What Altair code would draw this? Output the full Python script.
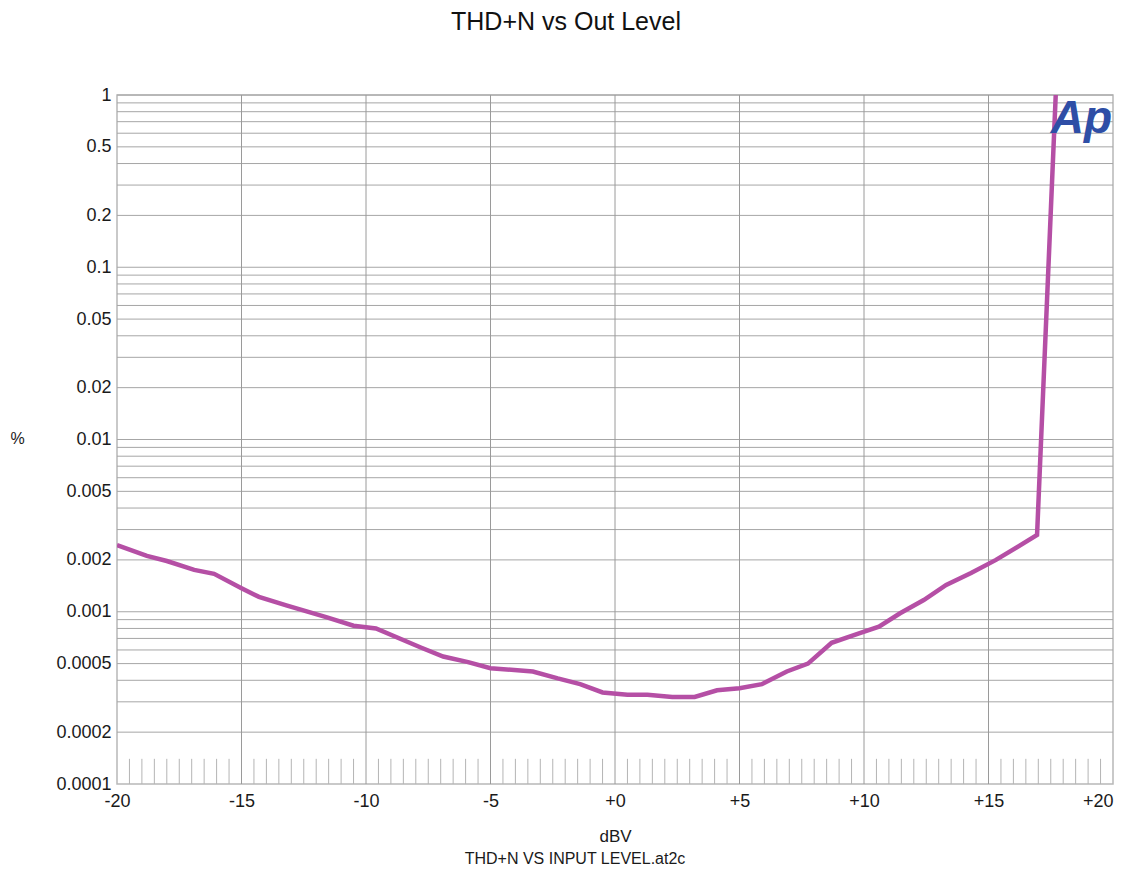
import altair as alt
import pandas as pd

# ---- data ----
level_dbv = [-20.0, -18.8, -18.0, -16.9, -16.1, -15.0, -14.3, -13.2, -11.6, -10.5,
             -9.6, -7.8, -6.9, -5.9, -5.0, -3.3, -2.3, -1.4, -0.5, 0.5,
             1.3, 2.3, 3.2, 4.1, 5.0, 5.9, 6.9, 7.75, 8.7, 9.8,
             10.6, 11.45, 12.4, 13.3, 14.3, 15.3, 16.95, 17.7]
thd_pct = [0.00244, 0.00211, 0.00197, 0.00175, 0.00166, 0.00137, 0.00122, 0.00109, 0.00093, 0.00083,
           0.00080, 0.00062, 0.00055, 0.00051, 0.00047, 0.00045, 0.00041, 0.00038, 0.00034, 0.00033,
           0.00033, 0.00032, 0.00032, 0.00035, 0.00036, 0.00038, 0.00045, 0.00050, 0.00066, 0.00075,
           0.00082, 0.00098, 0.00117, 0.00143, 0.00168, 0.00200, 0.00279, 1.0]

x_tick_values = [-20, -15, -10, -5, 0, 5, 10, 15, 20]
y_tick_values = [1, 0.5, 0.2, 0.1, 0.05, 0.02, 0.01, 0.005, 0.002, 0.001, 0.0005, 0.0002, 0.0001]

h_grid = [0.0002, 0.0003, 0.0004, 0.0005, 0.0006, 0.0007, 0.0008, 0.0009,
          0.001, 0.002, 0.003, 0.004, 0.005, 0.006, 0.007, 0.008, 0.009,
          0.01, 0.02, 0.03, 0.04, 0.05, 0.06, 0.07, 0.08, 0.09,
          0.1, 0.2, 0.3, 0.4, 0.5, 0.6, 0.7, 0.8, 0.9, 1.0]
v_grid = [-15, -10, -5, 0, 5, 10, 15]
minor_ticks = [-19.5, -19, -18.5, -18, -17.5, -17, -16.5, -16, -15.5,
               -14.5, -14, -13.5, -13, -12.5, -12, -11.5, -11, -10.5,
               -9.5, -9, -8.5, -8, -7.5, -7, -6.5, -6, -5.5,
               -4.5, -4, -3.5, -3, -2.5, -2, -1.5, -1, -0.5,
               0.5, 1, 1.5, 2, 2.5, 3, 3.5, 4, 4.5,
               5.5, 6, 6.5, 7, 7.5, 8, 8.5, 9, 9.5,
               10.5, 11, 11.5, 12, 12.5, 13, 13.5, 14, 14.5,
               15.5, 16, 16.5, 17, 17.5, 18, 18.5, 19, 19.5]
minor_tick_bottom = 0.0001
minor_tick_top = 0.00014
logo_text = ["Ap"]
logo_x = [17.5]
logo_y = [0.6]
title_text = ["THD+N vs Out Level"]
caption_text = ["THD+N VS INPUT LEVEL.at2c"]

FONT = "Liberation Sans"

df = pd.DataFrame({"dBV": level_dbv, "pct": thd_pct})
hgrid_df = pd.DataFrame({"pct": h_grid})
vgrid_df = pd.DataFrame({"dBV": v_grid})
ticks_df = pd.DataFrame({"dBV": minor_ticks,
                         "pct": [minor_tick_bottom] * len(minor_ticks),
                         "pct2": [minor_tick_top] * len(minor_ticks)})
logo_df = pd.DataFrame({"t": logo_text, "dBV": logo_x, "pct": logo_y})
title_df = pd.DataFrame({"t": title_text})
cap_df = pd.DataFrame({"t": caption_text})

x_scale = alt.Scale(domain=[-20, 20], nice=False, zero=False)
y_scale = alt.Scale(type="log", domain=[0.0001, 1], nice=False)

x_axis = alt.Axis(
    values=x_tick_values,
    labelExpr="datum.value > 0 ? '+' + datum.value : (datum.value == 0 ? '+0' : '' + datum.value)",
    labelAlign={"condition": {"test": "datum.value == 20", "value": "right"}, "value": "center"},
    labelFont=FONT, labelFontSize=18, labelColor="#1a1a1a", labelPadding=8,
    ticks=False, tickSize=0, domain=False, grid=False,
    title="dBV", titleFont=FONT, titleFontSize=17, titleFontWeight="normal",
    titleColor="#1a1a1a", titleX=498, titleY=57, titleBaseline="alphabetic",
    titleAlign="center", labelOverlap=False,
)
y_axis = alt.Axis(
    values=y_tick_values,
    labelExpr="'' + datum.value",
    labelFont=FONT, labelFontSize=18, labelColor="#1a1a1a", labelPadding=6,
    ticks=False, tickSize=0, domain=False, grid=False,
    title="%", titleFont=FONT, titleFontSize=16, titleFontWeight="normal",
    titleColor="#1a1a1a", titleAngle=0, titleX=-100, titleY=348,
    titleAlign="center", titleBaseline="alphabetic", labelOverlap=False,
)

X = alt.X("dBV:Q", scale=x_scale, axis=x_axis)
Y = alt.Y("pct:Q", scale=y_scale, axis=y_axis)

hgrid = alt.Chart(hgrid_df).mark_rule(color="#a6a6a6", strokeWidth=1).encode(y=Y)
vgrid = alt.Chart(vgrid_df).mark_rule(color="#9a9a9a", strokeWidth=1).encode(x=X)
ticks = alt.Chart(ticks_df).mark_rule(color="#b4b4b4", strokeWidth=1).encode(
    x=X, y=Y, y2="pct2:Q"
)
line = alt.Chart(df).mark_line(color="#b54fa5", strokeWidth=4.5, clip=True).encode(x=X, y=Y)
logo = alt.Chart(logo_df).mark_text(
    font=FONT, fontSize=46, fontWeight="bold", fontStyle="italic",
    color="#2e4ea6", align="left", baseline="alphabetic",
).encode(x=X, y=Y, text="t:N")
title = alt.Chart(title_df).mark_text(
    font=FONT, fontSize=25, color="#111111", align="center", baseline="alphabetic",
).encode(x=alt.value(449), y=alt.value(-65), text="t:N")
caption = alt.Chart(cap_df).mark_text(
    font=FONT, fontSize=16, color="#1a1a1a", align="center", baseline="alphabetic",
).encode(x=alt.value(458), y=alt.value(769), text="t:N")

chart = alt.layer(hgrid, vgrid, ticks, line, logo, title, caption).properties(
    width=996, height=689,
    autosize=alt.AutoSizeParams(type="none"),
    padding={"left": 109, "top": 87, "right": 5, "bottom": 84},
    background="white",
).configure_view(stroke="#b8b8b8", strokeWidth=1.5)

chart.save("out.html", embed_options={"renderer": "svg", "actions": False})
